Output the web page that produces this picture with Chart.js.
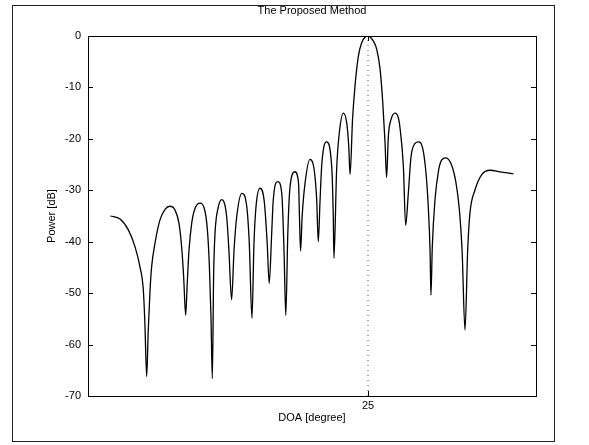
<!DOCTYPE html>
<html>
<head>
<meta charset="utf-8">
<script src="https://cdn.jsdelivr.net/npm/chart.js@4.4.0/dist/chart.umd.min.js"></script>
<style>
  html, body { margin: 0; padding: 0; background: #fff; }
  #wrap { position: relative; width: 589px; height: 445px; }
  #frame { position: absolute; left: 12px; top: 5px; width: 543px; height: 437px; border: 1px solid #222; box-sizing: border-box; pointer-events: none; }
  canvas { position: absolute; left: 0; top: 0; }
</style>
</head>
<body>
<div id="wrap">
  <canvas id="myChart" width="589" height="445"></canvas>
  <div id="frame"></div>
</div>
<script>
// values: DOA in degrees, power in dB
const doaDeg = [
  -90, -85.7, -82.0, -79.0, -76.8, -75.3, -74.6, -73.8, -73.1, -72.3,
  -71.6, -70.1, -67.9, -65.6, -63.4, -61.2, -59.4, -58.2, -57.3, -56.4,
  -55.7, -54.9, -53.7, -52.2, -50.0, -48.1, -46.7, -45.8, -45.1, -44.5,
  -43.9, -43.3, -41.8, -40.3, -38.1, -37.1, -35.9, -34.8, -33.6, -31.3,
  -29.2, -28.0, -26.8, -25.9, -25.0, -23.2, -21.3, -20.0, -19.1, -18.0,
  -17.3, -15.3, -13.5, -12.5, -11.7, -10.8, -9.8, -7.6, -6.0, -5.6,
  -5.1, -4.4, -3.1, -0.9, 1.0, 2.1, 2.8, 3.6, 4.3, 5.3,
  6.5, 8.8, 9.5, 9.8, 11.0, 12.2, 14.0, 15.5, 16.4, 17.0,
  18.1, 19.2, 20.7, 22.2, 23.7, 25.0, 27.4, 28.9, 30.4, 31.6,
  32.6, 33.3, 34.1, 35.3, 37.1, 38.6, 39.3, 40.8, 41.8, 43.0,
  44.2, 46.0, 47.5, 49.4, 50.9, 51.9, 52.7, 53.1, 53.7, 54.9,
  56.4, 57.9, 59.8, 62.3, 64.3, 65.8, 67.0, 68.3, 69.5, 70.5,
  72.8, 75.7, 79.5, 83.9, 89.9
];
const powerDb = [
  -35.0, -35.6, -37.7, -41.0, -44.9, -49.4, -55.9, -66.2, -57.2, -49.4,
  -44.9, -40.3, -35.8, -33.7, -33.1, -33.8, -36.4, -41.0, -46.8, -54.3,
  -48.1, -41.6, -36.4, -33.5, -32.5, -33.5, -37.7, -44.9, -54.6, -66.6,
  -46.1, -38.4, -33.2, -31.8, -35.1, -41.6, -51.3, -41.6, -35.1, -30.6,
  -32.9, -40.3, -54.9, -40.3, -33.2, -29.6, -32.2, -40.3, -48.1, -38.4,
  -31.9, -28.3, -30.6, -41.6, -54.3, -38.4, -29.3, -26.4, -28.6, -35.1,
  -41.8, -35.1, -28.6, -24.0, -26.1, -31.9, -40.0, -31.9, -25.4, -21.5,
  -20.6, -25.4, -35.1, -43.2, -25.9, -18.8, -15.0, -16.9, -21.4, -26.9,
  -16.2, -9.7, -3.9, -1.3, -0.2, 0, -1.0, -2.6, -6.5, -13.0,
  -20.7, -27.5, -19.4, -16.2, -15.0, -16.0, -17.9, -25.4, -36.8, -30.6,
  -23.5, -20.9, -20.6, -21.8, -26.7, -33.2, -41.6, -50.4, -41.0, -31.9,
  -26.4, -24.1, -23.7, -25.1, -28.6, -33.8, -41.6, -57.2, -41.6, -34.5,
  -29.9, -27.0, -26.1, -26.4, -26.8
];
const xTicks = [25];
const yTicks = [0, -10, -20, -30, -40, -50, -60, -70];
const markerDeg = 25;

window.onload = function () {
    const points = doaDeg.map((d, i) => ({ x: d, y: powerDb[i] }));
    const marker = [{ x: markerDeg, y: -70 }, { x: markerDeg, y: 0 }];
    showChart(points, marker);
};

// MATLAB style box with inward ticks
const boxPlugin = {
    id: 'box',
    afterDatasetsDraw(chart) {
        const { ctx, chartArea: a, scales } = chart;
        ctx.save();
        ctx.strokeStyle = '#000';
        ctx.lineWidth = 1;
        ctx.strokeRect(a.left + 0.5, a.top + 0.5, a.right - a.left, a.bottom - a.top);
        ctx.beginPath();
        yTicks.forEach(v => {
            const y = Math.round(scales.y.getPixelForValue(v)) + 0.5;
            ctx.moveTo(a.left, y); ctx.lineTo(a.left + 5, y);
            ctx.moveTo(a.right, y); ctx.lineTo(a.right - 5, y);
        });
        xTicks.forEach(v => {
            const x = Math.round(scales.x.getPixelForValue(v)) + 0.5;
            ctx.moveTo(x, a.bottom); ctx.lineTo(x, a.bottom - 5);
            ctx.moveTo(x, a.top); ctx.lineTo(x, a.top + 5);
        });
        ctx.stroke();
        ctx.restore();
    }
};

function showChart(points, marker) {
    const ctx = document.getElementById('myChart');
    const font = { family: '"Liberation Sans", Arial, sans-serif', size: 11 };
    new Chart(ctx, {
        type: 'line',
        data: {
            datasets: [{
                data: points,
                borderColor: '#000',
                borderWidth: 1.3,
                pointRadius: 0,
                cubicInterpolationMode: 'monotone',
                fill: false
            }, {
                data: marker,
                borderColor: '#555',
                borderWidth: 1,
                borderDash: [1, 4],
                pointRadius: 0,
                fill: false
            }]
        },
        plugins: [boxPlugin],
        options: {
            responsive: false,
            animation: false,
            layout: { padding: { left: 0, right: 53, top: 0, bottom: 0 } },
            plugins: {
                legend: { display: false },
                tooltip: { enabled: false },
                title: {
                    display: true,
                    text: 'The Proposed Method',
                    color: '#000',
                    fullSize: false,
                    font: { ...font, weight: 'normal' },
                    padding: { top: 4, bottom: 18.8 }
                }
            },
            scales: {
                x: {
                    type: 'linear',
                    min: -100,
                    max: 100,
                    afterBuildTicks: s => { s.ticks = xTicks.map(v => ({ value: v })); },
                    afterFit: s => { s.height = 49; },
                    grid: { display: false, drawTicks: false },
                    border: { display: false },
                    ticks: { color: '#000', font: font, padding: 3 },
                    title: { display: true, text: 'DOA [degree]', color: '#000', font: font, padding: { top: 0, bottom: 20 } }
                },
                y: {
                    min: -70,
                    max: 0,
                    afterBuildTicks: s => { s.ticks = yTicks.map(v => ({ value: v })); },
                    afterFit: s => { s.width = 88; },
                    grid: { display: false, drawTicks: false },
                    border: { display: false },
                    ticks: { color: '#000', font: font, padding: 7 },
                    title: { display: true, text: 'Power [dB]', color: '#000', font: font, padding: { top: 45, bottom: 0 } }
                }
            }
        }
    });
}
</script>
</body>
</html>
